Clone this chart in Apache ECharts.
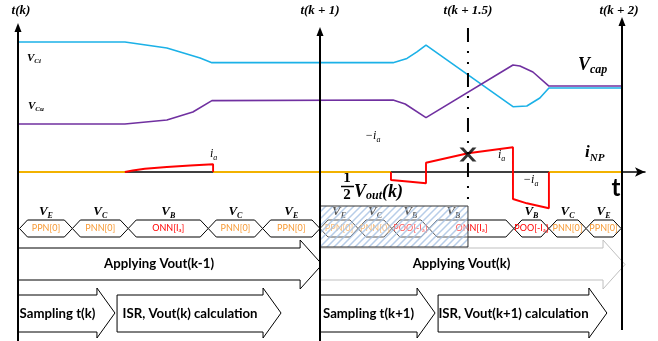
<!DOCTYPE html>
<html><head><meta charset="utf-8">
<script src="https://cdn.jsdelivr.net/npm/echarts@6/dist/echarts.min.js"></script>
<style>html,body{margin:0;padding:0;background:#fff;overflow:hidden}#chart{width:658px;height:341px}</style>
</head><body><div id="chart"></div>
<script>
// ===================== DATA =====================
// time in sampling periods: t(k)=0, t(k+1)=1, t(k+2)=2
const timeMarks = [0, 1, 2];
const timeMarkLabels = ['t(k)', 't(k + 1)', 't(k + 2)'];
const halfMark = [1.49];
const halfMarkLabel = 't(k + 1.5)';

// capacitor voltages (normalised)
const vCiPoints = [[0,1.0],[0.354,1.0],[0.493,0.927],[0.603,0.805],[0.642,0.748],[1.242,0.748],[1.288,0.80],[1.321,0.88],[1.351,0.963],[1.639,0.211],[1.685,0.22],[1.728,0.317],[1.758,0.439],[1.997,0.439]];
const vCuPoints = [[0,0.0],[0.354,0.0],[0.493,0.049],[0.579,0.146],[0.642,0.285],[1.242,0.293],[1.282,0.244],[1.351,0.077],[1.639,0.72],[1.662,0.707],[1.705,0.634],[1.758,0.463],[1.997,0.463]];

// neutral point current i_NP
const iNPZeroSpans = [[0,0.354],[0.646,1.235],[1.758,1.997]];
const iNPPulseK  = [[0.354,0],[0.38,0.15],[0.42,0.32],[0.493,0.5],[0.57,0.65],[0.646,0.77],[0.646,0]];
const iNPPulseK1 = [[1.235,0],[1.235,-0.8],[1.29,-0.95],[1.351,-1.13],[1.351,0.93],[1.49,1.87],[1.639,2.47],[1.639,-2.7],[1.685,-3.13],[1.758,-3.63],[1.758,0]];
const crossPoint = [[1.49,1.75]];

// switching states
const stateSpans = [[0.005,0.18],[0.18,0.365],[0.365,0.63],[0.63,0.81],[0.81,1.0],[1.0,1.126],[1.126,1.238],[1.238,1.361],[1.361,1.642],[1.642,1.758],[1.758,1.881],[1.881,1.997]];
const stateVectors = ['E','C','B','C','E','E','C','B','B','B','C','E'];
const stateSwitching = ['PPN','PNN','ONN','PNN','PPN','PPN','PNN','POO','ONN','POO','PNN','PPN'];
const stateCurrent = ['0','0','Ia','0','0','0','0','-Ia','Ia','-Ia','0','0'];

const hatchedSpan = [[1.0,1.49]];
const applySpans = [[0,1.007],[1.0,2.01]];
const applyLabels = ['Applying Vout(k-1)','Applying Vout(k)'];
const taskSpans = [[0,0.321],[0.328,0.871],[1.0,1.381],[1.391,1.950]];
const taskLabels = ['Sampling t(k)','ISR, Vout(k) calculation','Sampling t(k+1)','ISR, Vout(k+1) calculation'];

// ===================== LAYOUT / STYLE =====================
const L = {
  axisTop:[23,27,17], axisBottom:[341,341,330], labelY:11, labelDx:[3,0,-3],
  midTop:28, midBottom:200,
  hexY:228.5, hexH:17, hexTip:8, vecLabelY:212, vecLabelDx:[0,0,0,0,0,0,0,0,-18,0,0,0],
  hatchTop:206, hatchBottom:247,
  applyBodyTop:248, applyBodyBottom:280, applyHeadTop:240, applyHeadBottom:289, applyHead:22,
  applyStroke:['#000','#BFBFBF'],
  taskBodyTop:295, taskBodyBottom:332, taskHeadTop:288, taskHeadBottom:338, taskHead:18
};
const SERIF = '"Liberation Serif","DejaVu Serif",serif';
const SANS = 'Lato,Roboto,"Liberation Sans",sans-serif';
const C_CI = '#1BB1E7', C_CU = '#7030A0', C_ZERO = '#F2B200', C_RED = '#FF0000', C_CODE = '#F79A35';

const mctx = document.createElement('canvas').getContext('2d');
function tw(t, f){ mctx.font = f; return mctx.measureText(t).width; }
function fitSize(text, weight, target){ return 13 * target / tw(text, weight+' 13px '+SANS); }
const ARROW_FONT = 'bold ' + fitSize('Applying Vout(k-1)', 'bold', 110).toFixed(2) + 'px ' + SANS;
const CODE_FONT = '9px ' + SANS;
const CODE_SUB = '6px ' + SANS;

// builds text pieces (main + subscripts) laid out left-to-right
function pieces(x, y, parts, color, align){
  const w = parts.map(p => tw(p.t, p.f));
  const total = w.reduce((a,b)=>a+b,0);
  let cx = align === 'left' ? x : x - total/2;
  return parts.map((p,k)=>{
    const el = {type:'text', x:cx, y:y+(p.dy||0), z2:10,
      style:{text:p.t, font:p.f, fill:p.c||color, textAlign:'left', textVerticalAlign:'middle'}};
    cx += w[k]; return el;
  });
}
function mathSub(x, y, main, sub, size, subSize, align, color, weight){
  const wt = weight || 'bold';
  return pieces(x, y, [
    {t:main, f:'italic '+wt+' '+size+'px '+SERIF},
    {t:sub, f:'italic '+wt+' '+subSize+'px '+SERIF, dy:size*0.3}
  ], color||'#000', align);
}

// hatch pattern
const hatch = document.createElement('canvas'); hatch.width = 7; hatch.height = 7;
(function(){ const g = hatch.getContext('2d');
  g.fillStyle = 'rgba(255,255,255,0.35)'; g.fillRect(0,0,7,7);
  g.strokeStyle = 'rgba(165,192,226,0.8)'; g.lineWidth = 1.5; g.beginPath();
  g.moveTo(-1,8); g.lineTo(8,-1); g.moveTo(-1,1); g.lineTo(1,-1); g.moveTo(6,8); g.lineTo(8,6); g.stroke(); })();

const X = (api, v) => api.coord([v, 0])[0];

function renderTimeAxis(params, api){
  const i = params.dataIndex, x = X(api, api.value(0));
  const top = L.axisTop[i], bot = L.axisBottom[i];
  return {type:'group', children:[
    {type:'line', shape:{x1:x,y1:top+6,x2:x,y2:bot}, style:{stroke:'#000', lineWidth:2}},
    {type:'polygon', shape:{points:[[x,top],[x-3.5,top+9],[x+3.5,top+9]]}, style:{fill:'#000'}},
    {type:'text', x:x+L.labelDx[i], y:L.labelY, style:{text:timeMarkLabels[i], font:'italic bold 13px '+SERIF, fill:'#000', textAlign:'center', textVerticalAlign:'middle'}}
  ]};
}
function renderHalf(params, api){
  const x = X(api, api.value(0));
  return {type:'group', children:[
    {type:'line', shape:{x1:x,y1:L.midTop,x2:x,y2:L.midBottom}, style:{stroke:'#000', lineWidth:2, lineDash:[14,9,2,9,2,9]}},
    {type:'text', x:x, y:L.labelY, style:{text:halfMarkLabel, font:'italic bold 13px '+SERIF, fill:'#000', textAlign:'center', textVerticalAlign:'middle'}}
  ]};
}
function renderState(params, api){
  const i = params.dataIndex;
  const x0 = X(api, api.value(0)), x1 = X(api, api.value(1));
  const yc = L.hexY, h = L.hexH/2, d = L.hexTip, cx = (x0+x1)/2;
  const cur = stateCurrent[i];
  let parts, color;
  if (cur === '0') { parts = [{t:stateSwitching[i]+'[0]', f:CODE_FONT}]; color = C_CODE; }
  else { parts = [{t:stateSwitching[i]+'['+(cur[0]==='-'?'-':'')+'I', f:CODE_FONT},{t:'a', f:CODE_SUB, dy:2},{t:']', f:CODE_FONT}]; color = C_RED; }
  const children = [
    {type:'polygon', shape:{points:[[x0,yc],[x0+d,yc-h],[x1-d,yc-h],[x1,yc],[x1-d,yc+h],[x0+d,yc+h]]}, style:{fill:'#fff', stroke:'#000', lineWidth:1}}
  ].concat(pieces(cx, yc, parts, color, 'center'))
   .concat(mathSub(cx + L.vecLabelDx[i], L.vecLabelY, 'V', stateVectors[i], 13, 8, 'center'));
  return {type:'group', children};
}
function renderHatch(params, api){
  const x0 = X(api, api.value(0)), x1 = X(api, api.value(1));
  return {type:'rect', shape:{x:x0, y:L.hatchTop, width:x1-x0, height:L.hatchBottom-L.hatchTop},
    style:{fill:{image:hatch, repeat:'repeat'}, stroke:'#333', lineWidth:1}};
}
function blockArrow(x0, xt, head, bt, bb, ht, hb, stroke, text, font){
  const xh = xt - head, yc = (ht+hb)/2;
  return {type:'group', children:[
    {type:'polygon', shape:{points:[[x0,bt],[xh,bt],[xh,ht],[xt,yc],[xh,hb],[xh,bb],[x0,bb]]}, style:{fill:'#fff', stroke:stroke, lineWidth:1}},
    {type:'text', x:(x0+xh)/2, y:(bt+bb)/2, z2:10, style:{text:text, font:font, fill:'#000', textAlign:'center', textVerticalAlign:'middle'}}
  ]};
}
function renderApply(params, api){
  const i = params.dataIndex;
  return blockArrow(X(api, api.value(0)), X(api, api.value(1)), L.applyHead, L.applyBodyTop, L.applyBodyBottom,
    L.applyHeadTop, L.applyHeadBottom, L.applyStroke[i], applyLabels[i], ARROW_FONT);
}
function renderTask(params, api){
  const i = params.dataIndex;
  return blockArrow(X(api, api.value(0)), X(api, api.value(1)), L.taskHead, L.taskBodyTop, L.taskBodyBottom,
    L.taskHeadTop, L.taskHeadBottom, '#000', taskLabels[i], ARROW_FONT);
}

const lineBase = {type:'line', symbol:'none', silent:true, animation:false, xAxisIndex:0};
const customBase = {type:'custom', coordinateSystem:'cartesian2d', xAxisIndex:0, yAxisIndex:2, clip:false, silent:true, animation:false};

const series = [
  Object.assign({}, customBase, {name:'apply', z:1, data:applySpans, renderItem:renderApply}),
  Object.assign({}, customBase, {name:'tasks', z:1, data:taskSpans, renderItem:renderTask}),
  Object.assign({}, customBase, {name:'states', z:2, data:stateSpans, renderItem:renderState}),
  Object.assign({}, customBase, {name:'hatch', z:3, data:hatchedSpan, renderItem:renderHatch}),
  Object.assign({}, lineBase, {name:'VCi', yAxisIndex:0, z:3, data:vCiPoints, lineStyle:{color:C_CI, width:1.6}}),
  Object.assign({}, lineBase, {name:'VCu', yAxisIndex:0, z:3, data:vCuPoints, lineStyle:{color:C_CU, width:1.6}}),
].concat(iNPZeroSpans.map((s,k)=>Object.assign({}, lineBase, {name:'iNP0_'+k, yAxisIndex:1, z:3, data:[[s[0],0],[s[1],0]], lineStyle:{color:C_ZERO, width:2.2}})))
.concat([
  Object.assign({}, lineBase, {name:'iNPk', yAxisIndex:1, z:3, data:iNPPulseK, lineStyle:{color:C_RED, width:1.9}}),
  Object.assign({}, lineBase, {name:'iNPk1', yAxisIndex:1, z:3, data:iNPPulseK1, lineStyle:{color:C_RED, width:1.9}}),
  Object.assign({}, customBase, {name:'half', z:4, data:halfMark.map(t=>[t,0]), renderItem:renderHalf}),
  {type:'scatter', yAxisIndex:1, z:6, silent:true, animation:false, data:crossPoint, symbolSize:[17,14],
   symbol:'path://M0,0 H4 L8.5,5 L13,0 H17 L10.5,7 L17,14 H13 L8.5,9 L4,14 H0 L6.5,7 Z', itemStyle:{color:'#000'}},
  Object.assign({}, customBase, {name:'axes', z:7, data:timeMarks.map(t=>[t,0]), renderItem:renderTimeAxis})
]);

// annotation texts
const graphic = [].concat(
  mathSub(27, 58, 'V', 'Ci', 11, 7, 'left'),
  mathSub(28, 106, 'V', 'Cu', 11, 7, 'left'),
  mathSub(578, 65, 'V', 'cap', 18, 12, 'left'),
  mathSub(210, 154, 'i', 'a', 12, 8, 'left', '#000', 'normal'),
  mathSub(365, 136, '−i', 'a', 12, 8, 'left', '#000', 'normal'),
  mathSub(498, 155, 'i', 'a', 12, 8, 'left', '#000', 'normal'),
  mathSub(523, 180, '−i', 'a', 12, 8, 'left', '#000', 'normal'),
  mathSub(585, 153, 'i', 'NP', 17, 11, 'left'),
  [{type:'text', x:616, y:188, style:{text:'t', font:'bold 24px '+SANS, fill:'#000', textAlign:'center', textVerticalAlign:'middle'}},
   {type:'text', x:347, y:178, style:{text:'1', font:'bold 15px '+SERIF, fill:'#000', textAlign:'center', textVerticalAlign:'middle'}},
   {type:'line', shape:{x1:341, y1:186.5, x2:354, y2:186.5}, style:{stroke:'#000', lineWidth:1.5}},
   {type:'text', x:347, y:195, style:{text:'2', font:'bold 15px '+SERIF, fill:'#000', textAlign:'center', textVerticalAlign:'middle'}}],
  pieces(354, 192, [
    {t:'V', f:'italic bold 18px '+SERIF},
    {t:'out', f:'italic bold 12px '+SERIF, dy:4},
    {t:'(k)', f:'italic bold 18px '+SERIF}
  ], '#000', 'left')
);

const chart = echarts.init(document.getElementById('chart'), null, {renderer:'canvas'});
chart.setOption({
  animation:false,
  backgroundColor:'#fff',
  grid:{left:18, top:0, width:627, height:341, containLabel:false},
  xAxis:{type:'value', min:0, max:627/302, splitLine:{show:false}, axisTick:{show:false}, axisLabel:{show:false},
    axisLine:{show:true, onZero:true, onZeroAxisIndex:1, symbol:['none','arrow'], symbolSize:[7,10], lineStyle:{color:'#000', width:1.5}}},
  yAxis:[
    {type:'value', min:(124-341)/82, max:124/82, show:false},
    {type:'value', min:-16.9, max:17.2, show:false},
    {type:'value', min:0, max:1, show:false}
  ],
  series:series,
  graphic:graphic
});
</script></body></html>
